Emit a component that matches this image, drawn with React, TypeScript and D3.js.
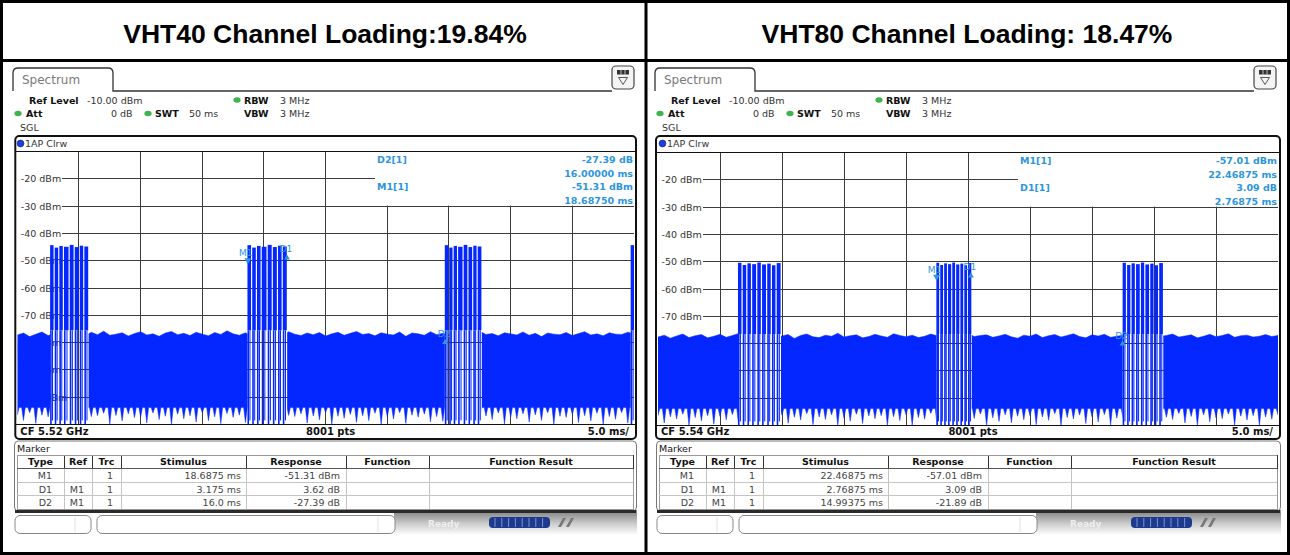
import React from "react";
import * as d3 from "d3";

const FONT = "'DejaVu Sans', Verdana, sans-serif";
const TITLE_FONT = "'Liberation Sans', Arial, sans-serif";
const TRACE = "#0527ff";
const MARK = "#2d95de";
const GRID = "#3c3c3c";

// ---------- data ----------
const titles = ["VHT40 Channel Loading:19.84%", "VHT80 Channel Loading: 18.47%"];
const cfLabels = ["CF 5.52 GHz", "CF 5.54 GHz"];
const ptsLabel = "8001 pts";
const divLabel = "5.0 ms/";
const timeDomain = [0, 50];
const levelDomain = [-110, -10];
const levelTicks = [-20, -30, -40, -50, -60, -70, -80, -90, -100];
const noiseStep = 0.5; // ms between envelope samples

const vht40Bursts = [
  { start: 2.66, end: 5.78 },
  { start: 18.66, end: 21.88 },
  { start: 34.66, end: 37.66 },
  { start: 49.73, end: 52.9 },
];
const vht40PacketFrac = [[0, 0.1], [0.12, 0.22], [0.24, 0.34], [0.36, 0.49], [0.51, 0.62], [0.64, 0.75], [0.77, 0.87], [0.89, 1]];
const vht40PacketPeak = [-44.3, -45.2, -44.6, -44.9, -44.2, -45.0, -44.5, -44.8];
const vht40PacketFloor = -75.5;
const vht40NoiseFloor = -103.8; // bottom of the solid noise band
const vht40NoiseTop = [
  -77.2, -76.5, -77.8, -76.9, -76.1, -77.4, -76.8, -77.9, -76.3, -77.0,
  -76.6, -77.5, -76.2, -77.1, -75.8, -77.3, -76.9, -76.4, -77.6, -76.7,
  -76.0, -77.2, -76.8, -77.7, -76.5, -75.9, -77.1, -76.6, -77.4, -76.2,
  -76.9, -77.5, -76.3, -77.0, -75.7, -76.8, -77.3, -76.4, -77.8, -76.6,
  -76.1, -77.2, -76.7, -77.5, -76.0, -76.9, -77.4, -76.5, -77.1, -76.3,
  -77.6, -76.8, -76.2, -77.3, -76.6, -75.9, -77.0, -76.7, -77.5, -76.4,
  -76.9, -77.2, -76.1, -77.7, -76.5, -76.8, -77.3, -76.0, -77.1, -76.6,
  -77.4, -76.3, -76.9, -77.6, -76.2, -75.8, -77.0, -76.7, -77.5, -76.4,
  -76.8, -77.2, -76.1, -77.3, -76.6, -77.8, -76.5, -76.9, -77.1, -76.3,
  -77.4, -76.7, -76.0, -77.2, -76.8, -77.5, -76.4, -76.9, -77.0, -76.2, -76.8,
];
// depth of the downward spikes below the solid band
const vht40NoiseSpikes = [
  -106.5, -108.5, -105.7, -109.6, -106.6, -107.2, -106.0, -110.0, -106.9, -108.1,
  -105.6, -109.2, -107.1, -106.8, -105.9, -109.8, -106.7, -108.7, -106.1, -107.5,
  -107.3, -109.4, -105.8, -108.2, -107.0, -110.0, -106.2, -107.9, -106.8, -109.1,
  -105.7, -108.6, -107.2, -109.7, -106.0, -107.4, -106.6, -109.3, -106.4, -108.4,
  -107.1, -110.0, -105.8, -108.9, -106.7, -107.1, -106.1, -109.5, -106.9, -108.3,
  -105.6, -109.9, -107.0, -107.7, -106.3, -109.2, -106.8, -108.6, -105.9, -110.0,
  -107.2, -108.0, -105.7, -109.6, -106.6, -107.3, -106.2, -109.0, -107.1, -108.8,
  -106.0, -110.0, -106.7, -107.6, -106.4, -109.4, -106.9, -108.2, -105.8, -109.8,
  -107.3, -107.9, -106.1, -109.1, -106.5, -108.5, -105.7, -110.0, -107.0, -107.4,
  -106.3, -109.3, -106.8, -108.7, -105.9, -109.9, -107.1, -108.1, -105.6, -109.5, -106.7,
];

const vht80Bursts = [
  { start: 6.45, end: 9.92 },
  { start: 22.45, end: 25.3 },
  { start: 37.47, end: 40.75 },
];
const vht80PacketFrac = [[0, 0.09], [0.11, 0.2], [0.22, 0.31], [0.33, 0.43], [0.45, 0.54], [0.56, 0.66], [0.68, 0.77], [0.79, 0.88], [0.9, 1]];
const vht80PacketPeak = [-50.4, -51.2, -50.6, -50.9, -50.3, -51.0, -50.7, -51.3, -50.5];
const vht80PacketFloor = -76.5;
const vht80NoiseFloor = -103.8;
const vht80NoiseTop = [
  -77.6, -76.9, -78.0, -77.2, -76.5, -77.8, -77.1, -76.7, -77.9, -77.3,
  -76.6, -77.7, -77.0, -76.3, -77.5, -77.9, -76.8, -77.4, -76.4, -77.6,
  -77.2, -76.7, -78.1, -77.0, -76.5, -77.5, -77.8, -76.9, -77.3, -76.2,
  -77.6, -77.1, -76.8, -77.9, -77.4, -76.6, -77.2, -77.7, -76.4, -77.0,
  -77.5, -76.9, -77.8, -77.3, -76.5, -77.1, -77.6, -76.7, -77.9, -77.2,
  -76.3, -77.4, -77.0, -76.8, -77.7, -77.2, -76.6, -77.5, -78.0, -76.9,
  -77.3, -76.5, -77.8, -77.1, -76.7, -77.6, -77.0, -76.4, -77.4, -77.9,
  -76.8, -77.2, -76.6, -77.7, -77.3, -76.9, -77.5, -76.3, -77.1, -77.8,
  -76.7, -77.4, -77.0, -76.5, -77.6, -77.2, -76.8, -77.9, -77.3, -76.6,
  -77.5, -77.0, -76.4, -77.7, -77.1, -76.9, -77.6, -77.3, -76.7, -77.4, -77.0,
];
const vht80NoiseSpikes = [
  -106.3, -109.1, -106.8, -107.6, -105.9, -110.0, -107.1, -108.3, -106.4, -109.5,
  -106.7, -107.9, -106.0, -109.8, -107.2, -108.6, -105.8, -110.0, -106.6, -107.3,
  -106.2, -109.2, -107.0, -108.0, -105.7, -109.7, -106.9, -107.8, -106.1, -110.0,
  -107.3, -108.4, -105.9, -109.3, -106.5, -107.5, -106.4, -109.9, -106.8, -108.2,
  -106.0, -110.0, -107.1, -107.7, -105.6, -109.4, -106.7, -108.8, -106.3, -109.6,
  -107.0, -107.4, -105.8, -110.0, -107.2, -108.5, -106.1, -109.0, -106.6, -107.9,
  -106.4, -109.7, -106.9, -108.1, -105.7, -110.0, -107.1, -107.6, -106.2, -109.3,
  -106.8, -108.7, -106.0, -109.8, -107.3, -107.2, -105.9, -110.0, -106.5, -108.4,
  -106.3, -109.5, -107.0, -107.8, -105.6, -109.1, -106.7, -110.0, -106.1, -108.6,
  -107.2, -107.5, -105.8, -109.9, -106.6, -108.0, -106.4, -110.0, -106.9, -107.7, -106.1,
];

const vht40Markers = [
  { name: "M1", kind: "M", t: 18.6875, lvl: -51.31 },
  { name: "D1", kind: "D", t: 21.8625, lvl: -47.69 },
  { name: "D2", kind: "D", t: 34.6875, lvl: -78.7 },
];
const vht80Markers = [
  { name: "M1", kind: "M", t: 22.46875, lvl: -57.01 },
  { name: "D1", kind: "D", t: 25.2375, lvl: -53.92 },
  { name: "D2", kind: "D", t: 37.4625, lvl: -78.9 },
];
const vht40Info = [
  ["D2[1]", "-27.39 dB"],
  ["", "16.00000 ms"],
  ["M1[1]", "-51.31 dBm"],
  ["", "18.68750 ms"],
];
const vht80Info = [
  ["M1[1]", "-57.01 dBm"],
  ["", "22.46875 ms"],
  ["D1[1]", "3.09 dB"],
  ["", "2.76875 ms"],
];
const tableHeaders = ["Type", "Ref", "Trc", "Stimulus", "Response", "Function", "Function Result"];
const vht40Table = [
  ["M1", "", "1", "18.6875 ms", "-51.31 dBm"],
  ["D1", "M1", "1", "3.175 ms", "3.62 dB"],
  ["D2", "M1", "1", "16.0 ms", "-27.39 dB"],
];
const vht80Table = [
  ["M1", "", "1", "22.46875 ms", "-57.01 dBm"],
  ["D1", "M1", "1", "2.76875 ms", "3.09 dB"],
  ["D2", "M1", "1", "14.99375 ms", "-21.89 dB"],
];

// ---------- layout ----------
const tableCols = [17, 64, 92, 121, 246, 346, 429];
const tableRight = [52, 84, 113, 241, 340];

function Panel(p: any) {
  const { id, ox, title, cf, plotLeft, plotRight, plotTop, bursts, packetFrac, packetPeak, packetFloor,
    noiseTop, noiseSpikes, noiseFloor, infoLeft, info, markers, table } = p;
  const plotBottom = plotTop + 273;
  const x = d3.scaleLinear().domain(timeDomain).range([plotLeft, plotRight]);
  const y = d3.scaleLinear().domain(levelDomain).range([plotBottom, plotTop]);
  const timeTicks = x.ticks(10);
  const cx = ox + 322;

  // noise band: jagged top from noiseTop, solid down to noiseFloor, narrow spikes below
  const topLine = d3.line<number>().x((_d, i) => x(i * noiseStep)).y((d) => y(d));
  const hw = 1.8;
  const bottomPts: [number, number][] = [];
  for (let i = noiseSpikes.length - 1; i >= 0; i--) {
    const xi = x(i * noiseStep);
    bottomPts.push([xi + hw, y(noiseFloor)], [xi, y(noiseSpikes[i])], [xi - hw, y(noiseFloor)]);
  }
  const noisePath = (topLine(noiseTop) || "") + bottomPts.map((pt) => `L${pt[0]},${pt[1]}`).join("") + "Z";

  const gaps: number[][] = [];
  let prev = timeDomain[0];
  bursts.forEach((b: any) => { gaps.push([prev, b.start]); prev = b.end; });
  if (prev < timeDomain[1]) gaps.push([prev, timeDomain[1]]);

  const fs = 9.5;
  const tableTop = 455;
  const rowH = 13.6;
  const tRight = plotRight - 1;
  const cols = tableCols.map((c) => c + ox).concat([tRight]);

  return (
    <g>
      <defs>
        <clipPath id={`plot-${id}`}>
          <rect x={plotLeft} y={plotTop} width={plotRight - plotLeft} height={plotBottom - plotTop} />
        </clipPath>
        <clipPath id={`gaps-${id}`}>
          {gaps.map((g, i) => (
            <rect key={i} x={x(g[0])} y={plotTop} width={Math.max(0, x(g[1]) - x(g[0]))} height={plotBottom - plotTop} />
          ))}
        </clipPath>
        <linearGradient id={`status-${id}`} x1="0" y1="0" x2="0" y2="1">
          <stop offset="0" stopColor="#8e8e8e" />
          <stop offset="0.45" stopColor="#c8c8c8" />
          <stop offset="1" stopColor="#ffffff" />
        </linearGradient>
      </defs>

      {/* title */}
      <text x={cx + 3} y={43} textAnchor="middle" fontFamily={TITLE_FONT} fontWeight="bold" fontSize={26.5} fill="#000">{title}</text>

      {/* tab */}
      <path d={`M${ox + 13},91 L${ox + 13},73 Q${ox + 13},68 ${ox + 18},68 L${ox + 108},68 Q${ox + 113},68 ${ox + 113},73 L${ox + 113},91 L${ox + 612},91`}
        fill="none" stroke="#333" strokeWidth={1.3} />
      <text x={ox + 22} y={84} fontFamily={FONT} fontSize={12} fill="#7a7a7a">Spectrum</text>
      {/* button */}
      <rect x={ox + 612} y={66} width={22} height={23} rx={4} fill="#f4f4f4" stroke="#444" strokeWidth={1.2} />
      <rect x={ox + 617} y={70} width={12} height={4.5} fill="#333" />
      <line x1={ox + 621} y1={70} x2={ox + 621} y2={74.5} stroke="#ddd" strokeWidth={0.8} />
      <line x1={ox + 625} y1={70} x2={ox + 625} y2={74.5} stroke="#ddd" strokeWidth={0.8} />
      <path d={`M${ox + 618.5},77.5 L${ox + 627.5},77.5 L${ox + 623},84.5 Z`} fill="none" stroke="#555" strokeWidth={1} />

      {/* settings */}
      <g fontFamily={FONT} fontSize={fs} fill="#333">
        <text x={ox + 29} y={103.5} fontWeight="bold" fill="#111">Ref Level</text>
        <text x={ox + 87} y={103.5}>-10.00 dBm</text>
        <ellipse cx={ox + 237} cy={100} rx={3.6} ry={2.8} fill="#3fb34f" />
        <text x={ox + 244} y={103.5} fontWeight="bold" fill="#111">RBW</text>
        <text x={ox + 280} y={103.5}>3 MHz</text>
        <ellipse cx={ox + 18} cy={113.5} rx={3.6} ry={2.8} fill="#3fb34f" />
        <text x={ox + 26} y={117} fontWeight="bold" fill="#111">Att</text>
        <text x={ox + 111} y={117}>0 dB</text>
        <ellipse cx={ox + 148} cy={113.5} rx={3.6} ry={2.8} fill="#3fb34f" />
        <text x={ox + 155} y={117} fontWeight="bold" fill="#111">SWT</text>
        <text x={ox + 189} y={117}>50 ms</text>
        <text x={ox + 244} y={117} fontWeight="bold" fill="#111">VBW</text>
        <text x={ox + 280} y={117}>3 MHz</text>
        <text x={ox + 20} y={131}>SGL</text>
      </g>

      {/* graph frame */}
      <rect x={plotLeft - 2} y={136} width={plotRight - plotLeft + 4} height={303} rx={4} fill="#fff" stroke="#111" strokeWidth={2} />
      <circle cx={ox + 20.5} cy={143.5} r={3.4} fill="#1f3fdd" stroke="#0a1a70" strokeWidth={0.6} />
      <text x={ox + 25} y={147} fontFamily={FONT} fontSize={fs} fill="#333">1AP Clrw</text>

      {/* grid */}
      <g stroke={GRID} strokeWidth={1} shapeRendering="crispEdges">
        {timeTicks.slice(1, -1).map((t) => (
          <line key={t} x1={x(t)} x2={x(t)} y1={plotTop} y2={plotBottom} />
        ))}
        {levelTicks.map((l) => (
          <line key={l} x1={plotLeft + 45} x2={plotRight} y1={y(l)} y2={y(l)} />
        ))}
      </g>
      <g fontFamily={FONT} fontSize={fs} fill="#333">
        {levelTicks.map((l) => (
          <text key={l} x={plotLeft + 3.5} y={y(l) + 3.5}>{`${l} dBm`}</text>
        ))}
      </g>

      {/* marker info box */}
      <rect x={infoLeft} y={plotTop + 0.5} width={plotRight - infoLeft} height={y(-30) - plotTop - 1} fill="#fff" />
      <g fontFamily={FONT} fontSize={9.5} fontWeight="bold" fill={MARK}>
        {info.map((r: string[], i: number) => (
          <g key={i}>
            {r[0] && <text x={infoLeft + 2} y={plotTop + 11.5 + i * 13.6}>{r[0]}</text>}
            <text x={plotRight - 1} y={plotTop + 11.5 + i * 13.6} textAnchor="end">{r[1]}</text>
          </g>
        ))}
      </g>

      {/* trace */}
      <g clipPath={`url(#plot-${id})`}>
        <g clipPath={`url(#gaps-${id})`}>
          <path d={noisePath} fill={TRACE} stroke={TRACE} strokeWidth={0.5} />
        </g>
        {bursts.map((b: any, bi: number) => {
          const w = b.end - b.start;
          return (
            <g key={bi} fill={TRACE}>
              {packetFrac.map((f: number[], j: number) => {
                const s = b.start + f[0] * w;
                const e = b.start + f[1] * w;
                const xs = x(s);
                const xe = x(e);
                return (
                  <g key={j}>
                    <rect x={xs} y={y(packetPeak[j])} width={Math.max(0.8, xe - xs - 0.4)} height={y(packetFloor) - y(packetPeak[j])} />
                    <rect x={xs} y={y(packetFloor)} width={1.6} height={plotBottom - y(packetFloor)} />
                    <rect x={(xs + xe) / 2} y={y(packetFloor)} width={1} height={y(-108.5) - y(packetFloor)} />
                  </g>
                );
              })}
            </g>
          );
        })}
      </g>

      {/* markers */}
      <g fontFamily={FONT} fontSize={9} fill={MARK}>
        {markers.map((m: any) => {
          const mx = x(m.t);
          const my = y(m.lvl);
          if (m.kind === "M") {
            return (
              <g key={m.name}>
                <path d={`M${mx - 3.5},${my - 6} L${mx + 3.5},${my - 6} L${mx},${my} Z`} />
                <text x={mx - 2} y={my - 8} textAnchor="middle">{m.name}</text>
              </g>
            );
          }
          return (
            <g key={m.name}>
              <path d={`M${mx - 3},${my + 5} L${mx + 3},${my + 5} L${mx},${my} Z`} />
              <text x={mx - 1} y={my - 2} textAnchor="middle">{m.name}</text>
            </g>
          );
        })}
      </g>

      {/* plot border */}
      <g stroke="#111" strokeWidth={1} fill="none" shapeRendering="crispEdges">
        <line x1={plotLeft - 1} x2={plotRight + 1} y1={plotTop} y2={plotTop} />
        <line x1={plotLeft - 1} x2={plotRight + 1} y1={plotBottom} y2={plotBottom} />
      </g>
      <g fontFamily={FONT} fontSize={10} fontWeight="bold" fill="#111">
        <text x={plotLeft + 3} y={435}>{cf}</text>
        <text x={(plotLeft + plotRight) / 2 + 5} y={435} textAnchor="middle">{ptsLabel}</text>
        <text x={plotRight - 5} y={435} textAnchor="end">{divLabel}</text>
      </g>

      {/* marker table */}
      <rect x={ox + 14.5} y={441} width={plotRight - ox - 12} height={70} rx={4} fill="#fff" stroke="#777" strokeWidth={1} />
      <line x1={ox + 15} x2={plotRight + 2.5} y1={511.5} y2={511.5} stroke="#2a2a2a" strokeWidth={3} />
      <text x={ox + 17} y={451.5} fontFamily={FONT} fontSize={fs} fill="#111">Marker</text>
      <g shapeRendering="crispEdges">
        <rect x={cols[0]} y={tableTop} width={tRight - cols[0]} height={rowH * 4} fill="none" stroke="#999" />
        <line x1={cols[0]} x2={tRight} y1={tableTop + rowH} y2={tableTop + rowH} stroke="#555" />
        {[2, 3].map((r) => (
          <line key={r} x1={cols[0]} x2={tRight} y1={tableTop + rowH * r} y2={tableTop + rowH * r} stroke="#c4c4c4" />
        ))}
        {cols.slice(1, -1).map((c, i) => (
          <g key={i}>
            <line x1={c} x2={c} y1={tableTop + 1} y2={tableTop + rowH - 1} stroke="#333" />
            <line x1={c} x2={c} y1={tableTop + rowH} y2={tableTop + rowH * 4} stroke="#c4c4c4" />
          </g>
        ))}
        <line x1={tRight} x2={tRight} y1={tableTop} y2={tableTop + rowH} stroke="#333" />
      </g>
      <g fontFamily={FONT} fontSize={fs} fontWeight="bold" fill="#111">
        {tableHeaders.map((h, i) => (
          <text key={h} x={(cols[i] + cols[i + 1]) / 2} y={tableTop + 10.3} textAnchor="middle">{h}</text>
        ))}
      </g>
      <g fontFamily={FONT} fontSize={fs} fill="#444">
        {table.map((row: string[], r: number) =>
          row.map((v, c) => (
            <text key={`${r}-${c}`} x={ox + tableRight[c]} y={tableTop + rowH * (r + 1) + 10.3} textAnchor="end">{v}</text>
          ))
        )}
      </g>

      {/* status bar */}
      <rect x={ox + 394} y={513} width={plotRight - ox - 391} height={22} fill={`url(#status-${id})`} />
      <rect x={ox + 15} y={515.5} width={76} height={18} rx={5} fill="#fff" stroke="#888" />
      <line x1={ox + 75} x2={ox + 75} y1={517} y2={532} stroke="#e2e2e2" />
      <rect x={ox + 97} y={515.5} width={298} height={18} rx={5} fill="#fff" stroke="#888" />
      <line x1={ox + 378} x2={ox + 378} y1={517} y2={532} stroke="#e2e2e2" />
      <text x={ox + 428} y={527} fontFamily={FONT} fontSize={9} fontWeight="bold" fill="#eeeeee">Ready</text>
      <rect x={ox + 489} y={517} width={61} height={11} rx={4} fill="#1d3a8e" />
      {[0, 1, 2, 3, 4, 5, 6, 7].map((k) => (
        <line key={k} x1={ox + 495 + k * 6.8} x2={ox + 495 + k * 6.8} y1={518} y2={527} stroke="#7d93cf" strokeWidth={1} />
      ))}
      <path d={`M${ox + 558},527 L${ox + 563},518 L${ox + 566},518 L${ox + 561},527 Z M${ox + 566},527 L${ox + 571},518 L${ox + 574},518 L${ox + 569},527 Z`} fill="#777" />
    </g>
  );
}

export default function App() {
  return (
    <svg width={1290} height={555} viewBox="0 0 1290 555" style={{ position: "absolute", left: 0, top: 0, background: "#fff" }}>
      <rect x={0} y={0} width={1290} height={555} fill="#fff" />
      <Panel id="a" ox={0} title={titles[0]} cf={cfLabels[0]} plotLeft={17.3} plotRight={634} plotTop={151.5}
        bursts={vht40Bursts} packetFrac={vht40PacketFrac} packetPeak={vht40PacketPeak} packetFloor={vht40PacketFloor}
        noiseTop={vht40NoiseTop} noiseSpikes={vht40NoiseSpikes} noiseFloor={vht40NoiseFloor} infoLeft={375} info={vht40Info}
        markers={vht40Markers} table={vht40Table} />
      <Panel id="b" ox={642} title={titles[1]} cf={cfLabels[1]} plotLeft={658} plotRight={1278} plotTop={152.5}
        bursts={vht80Bursts} packetFrac={vht80PacketFrac} packetPeak={vht80PacketPeak} packetFloor={vht80PacketFloor}
        noiseTop={vht80NoiseTop} noiseSpikes={vht80NoiseSpikes} noiseFloor={vht80NoiseFloor} infoLeft={1018} info={vht80Info}
        markers={vht80Markers} table={vht80Table} />
      {/* outer frame */}
      <rect x={1.5} y={1.5} width={1287} height={552} fill="none" stroke="#000" strokeWidth={3} />
      <line x1={0} x2={1290} y1={60.5} y2={60.5} stroke="#000" strokeWidth={3} />
      <line x1={646} x2={646} y1={0} y2={555} stroke="#000" strokeWidth={3} />
    </svg>
  );
}
